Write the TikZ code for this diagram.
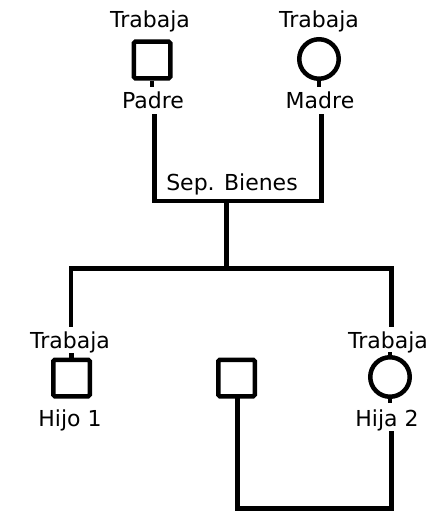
\documentclass[tikz,border=0pt]{standalone}
\usepackage{fontspec}
\setmainfont{DejaVu Sans}
\begin{document}
\begin{tikzpicture}[x=1pt,y=-1pt,
  line width=4.5pt,
  male/.style={draw, rectangle, rounded corners=1.5pt, minimum size=36.5pt, inner sep=0pt},
  female/.style={draw, circle, minimum size=39.5pt, inner sep=0pt},
  lbl/.style={anchor=base, inner sep=0pt, font=\fontsize{22}{26}\selectfont, text=black},
  link/.style={line cap=rect, line join=miter}]
\useasboundingbox (0,0) rectangle (435,511);

% parents
\node[lbl] (tp) at (150,28) {Trabaja};
\node[male] (padre) at (152,60) {};
\node[lbl] (lp) at (153,108) {Padre};
\node[lbl] (tm) at (319,28) {Trabaja};
\node[female] (madre) at (319,59) {};
\node[lbl] (lm) at (320,108) {Madre};
\node[lbl] (sep) at (232,190) {Sep. Bienes};

% children
\node[lbl] (th) at (70,348) {Trabaja};
\node[male] (hijo) at (71.5,378) {};
\node[lbl] (lh) at (70,426) {Hijo 1};
\node[male] (pareja) at (236.5,378) {};
\node[lbl] (ti) at (388,348) {Trabaja};
\node[female] (hija) at (390,377) {};
\node[lbl] (li) at (387,426) {Hija 2};

% junction points
\coordinate (p1) at (154.5,116);
\coordinate (m1) at (321.5,116);
\coordinate (pm) at (154.5,201);
\coordinate (mm) at (321.5,201);
\coordinate (drop) at (226.5,201);
\coordinate (bar) at (226.5,268.5);
\coordinate (barL) at (71,268.5);
\coordinate (barR) at (391.5,268.5);
\coordinate (h1) at (71,325);
\coordinate (h2) at (391.5,325);
\coordinate (c1) at (237.5,508.5);
\coordinate (c2) at (391.5,508.5);
\coordinate (c3) at (391.5,433);

% small stubs on the symbols
\draw (padre.south) -- ++(0,6);
\draw (madre.south) -- ++(0,6);
\draw (hijo.north) -- ++(0,-5);
\draw (hija.north) -- ++(0,-3);
\draw (hija.south) -- ++(0,4);

% marriage line
\draw[link] (p1) -- (pm) -- (mm) -- (m1);
\draw[link] (drop) -- (bar);
% sibling bar
\draw[link] (h1) -- (barL) -- (barR) -- (h2);
% partner line of Hija 2
\draw[link] (pareja.south -| c1) -- (c1) -- (c2) -- (c3);
\end{tikzpicture}
\end{document}
